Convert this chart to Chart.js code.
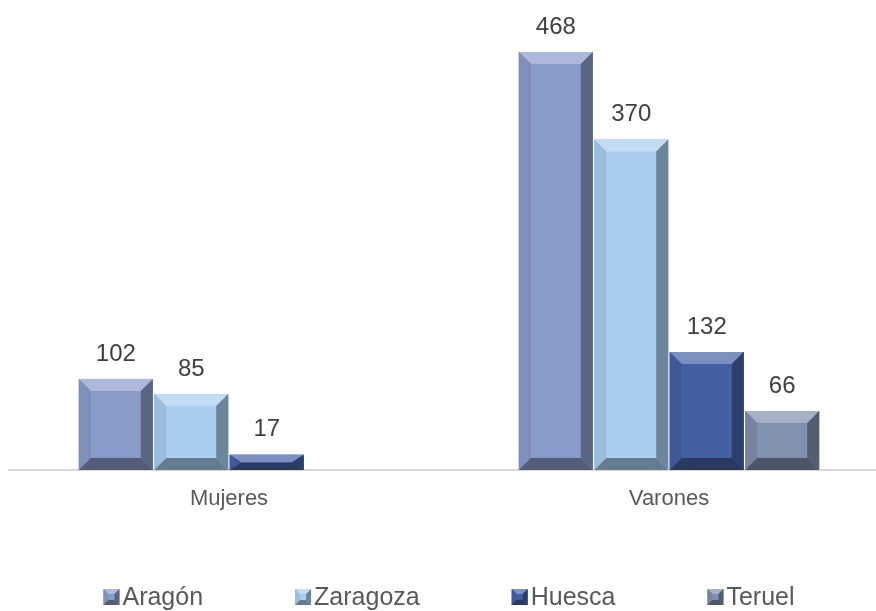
<!DOCTYPE html>
<html>
<head>
<meta charset="utf-8">
<script src="https://cdn.jsdelivr.net/npm/chart.js@4.4.0/dist/chart.umd.min.js"></script>
<style>
html, body { margin: 0; padding: 0; background: #fff; overflow: hidden; }
#marco { width: 876px; height: 611px; overflow: hidden; position: relative; }
#caja { width: 890px; height: 611px; position: absolute; left: 0; top: 0; }
</style>
</head>
<body>
<div id="marco"><div id="caja"><canvas id="grafico"></canvas></div></div>
<script>
// datos
var categorias = ['Mujeres', 'Varones'];
var series = ['Aragón', 'Zaragoza', 'Huesca', 'Teruel'];
var aragon = [102, 468];
var zaragoza = [85, 370];
var huesca = [17, 132];
var teruel = [null, 66];
var colores = ['#8a9bca', '#a8cdef', '#4460a4', '#8190ae'];

Chart.defaults.font.family = '"Liberation Sans", Arial, sans-serif';

function ajustar(hex, f) {
    var c = [parseInt(hex.substr(1, 2), 16), parseInt(hex.substr(3, 2), 16), parseInt(hex.substr(5, 2), 16)];
    c = c.map(function (v) {
        return Math.round(f > 0 ? v + (255 - v) * f : v * (1 + f));
    });
    return 'rgb(' + c.join(',') + ')';
}

function poligono(ctx, pts, color) {
    ctx.beginPath();
    ctx.moveTo(pts[0][0], pts[0][1]);
    for (var i = 1; i < pts.length; i++) ctx.lineTo(pts[i][0], pts[i][1]);
    ctx.closePath();
    ctx.fillStyle = color;
    ctx.fill();
}

// bisel tipo Excel
function biselar(ctx, x0, y0, x1, y1, b, color) {
    var bx = Math.min(b, (x1 - x0) / 2), by = Math.min(b, (y1 - y0) / 2);
    ctx.fillStyle = color;
    ctx.fillRect(x0, y0, x1 - x0, y1 - y0);
    poligono(ctx, [[x0, y0], [x1, y0], [x1 - bx, y0 + by], [x0 + bx, y0 + by]], ajustar(color, 0.3));
    poligono(ctx, [[x0, y0], [x0 + bx, y0 + by], [x0 + bx, y1 - by], [x0, y1]], ajustar(color, -0.08));
    poligono(ctx, [[x1, y0], [x1, y1], [x1 - bx, y1 - by], [x1 - bx, y0 + by]], ajustar(color, -0.35));
    poligono(ctx, [[x0, y1], [x0 + bx, y1 - by], [x1 - bx, y1 - by], [x1, y1]], ajustar(color, -0.4));
}

var pluginBisel = {
    id: 'bisel',
    afterDatasetsDraw: function (chart) {
        var ctx = chart.ctx;
        ctx.save();
        chart.data.datasets.forEach(function (ds, i) {
            var meta = chart.getDatasetMeta(i);
            meta.data.forEach(function (bar, j) {
                if (ds.data[j] == null) return;
                var p = bar.getProps(['x', 'y', 'base', 'width'], true);
                biselar(ctx, p.x - p.width / 2, p.y, p.x + p.width / 2, p.base, 12, colores[i]);
            });
        });
        // etiquetas de valor
        ctx.font = '24px "Liberation Sans", Arial, sans-serif';
        ctx.fillStyle = '#404040';
        ctx.textAlign = 'center';
        ctx.textBaseline = 'middle';
        chart.data.datasets.forEach(function (ds, i) {
            var meta = chart.getDatasetMeta(i);
            meta.data.forEach(function (bar, j) {
                if (ds.data[j] == null) return;
                ctx.fillText(ds.data[j], bar.x, bar.y - 25);
            });
        });
        ctx.restore();
    }
};

var pluginLeyenda = {
    id: 'leyenda',
    afterDraw: function (chart) {
        var ctx = chart.ctx;
        ctx.save();
        ctx.font = '25px "Liberation Sans", Arial, sans-serif';
        var anchos = series.map(function (s) { return 16 + 3 + ctx.measureText(s).width; });
        var hueco = 92;
        var total = anchos.reduce(function (a, b) { return a + b; }, 0) + hueco * (series.length - 1);
        var x = (chart.chartArea.left + chart.chartArea.right) / 2 - total / 2;
        var y = chart.height - 14;
        ctx.textBaseline = 'middle';
        ctx.textAlign = 'left';
        series.forEach(function (s, i) {
            biselar(ctx, x, y - 8, x + 16, y + 8, 5, colores[i]);
            ctx.fillStyle = '#595959';
            ctx.fillText(s, x + 19, y + 1);
            x += anchos[i] + hueco;
        });
        ctx.restore();
    }
};

var ctx = document.getElementById('grafico').getContext('2d');
var chart = new Chart(ctx, {
    type: 'bar',
    data: {
        labels: categorias,
        datasets: [
            { label: series[0], data: aragon, backgroundColor: colores[0] },
            { label: series[1], data: zaragoza, backgroundColor: colores[1] },
            { label: series[2], data: huesca, backgroundColor: colores[2] },
            { label: series[3], data: teruel, backgroundColor: colores[3] }
        ]
    },
    options: {
        responsive: true,
        maintainAspectRatio: false,
        animation: false,
        categoryPercentage: 0.686,
        barPercentage: 0.98,
        layout: { padding: { top: 23.5, left: 9, right: 1, bottom: 82.6 } },
        plugins: {
            legend: { display: false },
            tooltip: { enabled: false }
        },
        scales: {
            x: {
                grid: { display: false, drawTicks: false },
                border: { display: true, color: '#d9d9d9', width: 2 },
                ticks: { color: '#595959', font: { size: 22 }, padding: 16 }
            },
            y: { display: false, min: 0, max: 500 }
        }
    },
    plugins: [pluginBisel, pluginLeyenda]
});
</script>
</body>
</html>
